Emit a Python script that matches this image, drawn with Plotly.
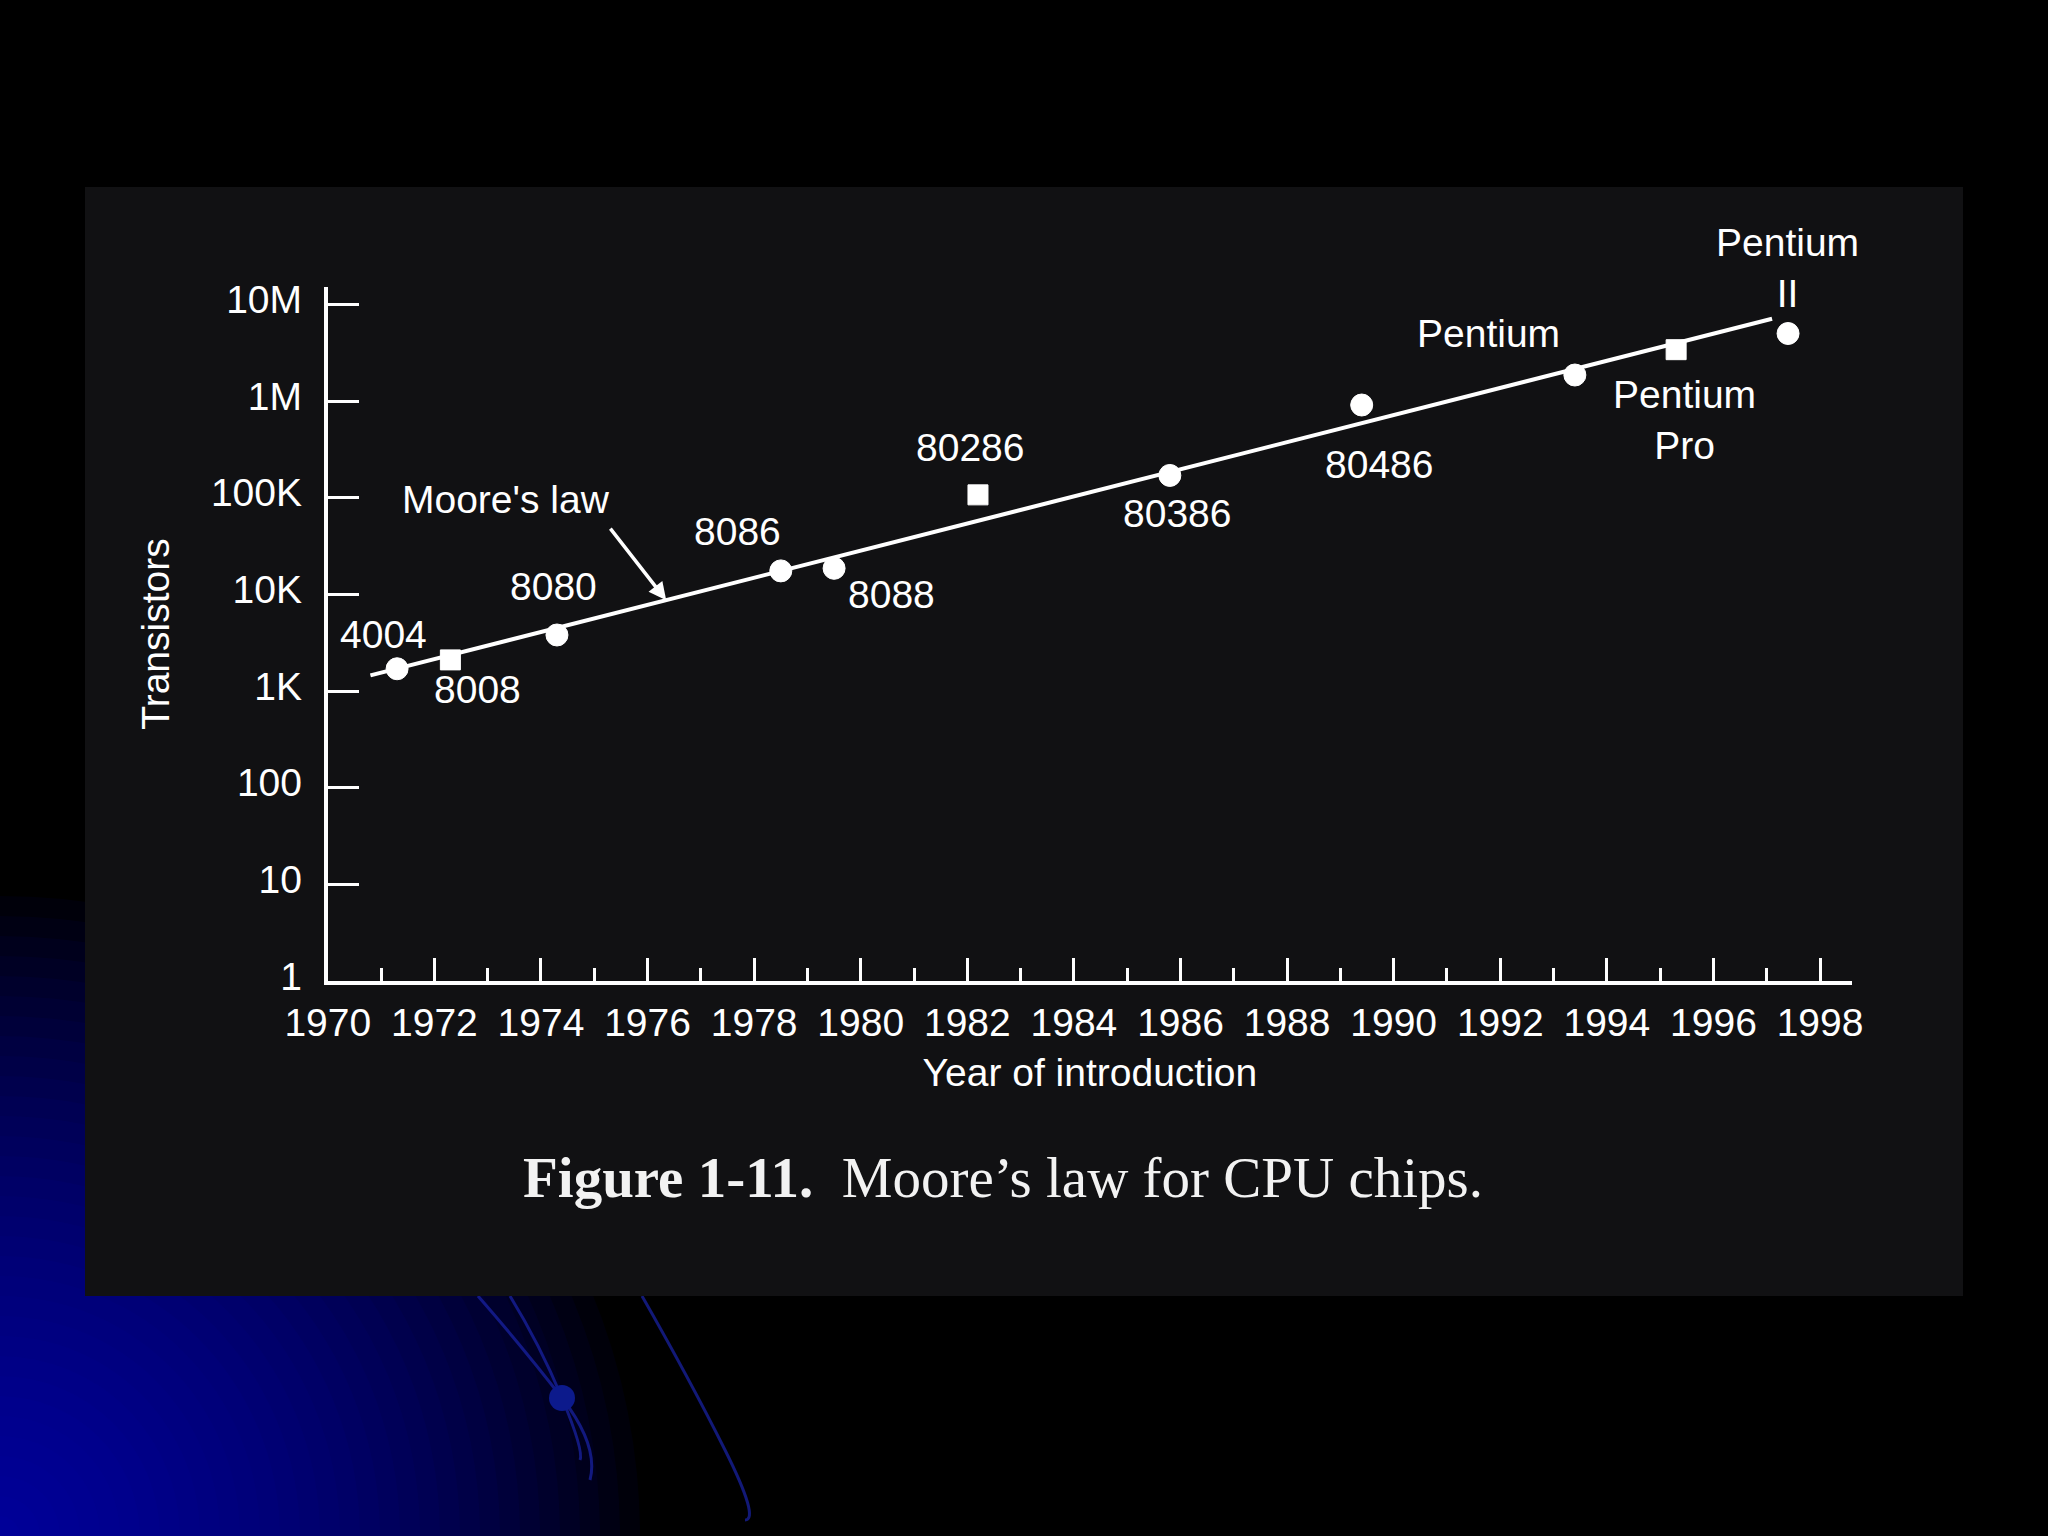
import math
import plotly.graph_objects as go

# ---------------- data ----------------
chips = ["4004", "8008", "8080", "8086", "8088", "80286", "80386", "80486",
         "Pentium", "Pentium<br>Pro", "Pentium<br>II"]
years = [1971.3, 1972.3, 1974.3, 1978.5, 1979.5, 1982.2, 1985.8, 1989.4,
         1993.4, 1995.3, 1997.4]
transistors = [1700, 2100, 3800, 17500, 18600, 107000, 170000, 910000,
               1860000, 3400000, 5000000]
marker_kind = ["circle", "square", "circle", "circle", "circle", "square",
               "circle", "circle", "circle", "square", "circle"]

moore_years = [1970.8, 1997.1]
moore_transistors = [1450, 7.1e6]
moore_arrow_year = 1976.35

x_tickvals = list(range(1970, 1999, 2))
y_tickvals = [1, 10, 100, 1e3, 1e4, 1e5, 1e6, 1e7]
y_ticktext = ["1", "10", "100", "1K", "10K", "100K", "1M", "10M"]

# ---------------- styling ----------------
W, H = 2048, 1536
FONT = "Liberation Sans, Arial, sans-serif"
FS = 39
WHITE = "#ffffff"
# label offsets (pixels) relative to each chip's point
label_dx = [-14, 27, -3, -43, 57, -8, 7, 17, -86, 8, -1]
label_dy = [34, -30, 48, 39, -26, 47, -38, -59, 42, -70, 66]


def px(x):
    return x / W


def py(y):
    return 1 - y / H


fig = go.Figure()

# Moore's law trend line
fig.add_trace(go.Scatter(
    x=moore_years, y=moore_transistors, mode="lines",
    line=dict(color=WHITE, width=4), hoverinfo="skip", showlegend=False,
))

# chip points
fig.add_trace(go.Scatter(
    x=years, y=transistors, mode="markers",
    marker=dict(symbol=marker_kind,
                size=[22 if m == "circle" else 20 for m in marker_kind],
                color=WHITE, opacity=1, line=dict(width=1, color=WHITE)),
    text=[c.replace("<br>", " ") for c in chips],
    hovertemplate="%{text}: %{y:,}<extra></extra>", showlegend=False,
))

annotations = []
for c, xv, yv, dx, dy in zip(chips, years, transistors, label_dx, label_dy):
    annotations.append(dict(
        x=xv, y=math.log10(yv), xref="x", yref="y", text=c,
        showarrow=False, xanchor="center", yanchor="middle",
        xshift=dx, yshift=dy,
        font=dict(family=FONT, size=FS, color=WHITE),
    ))

# Moore's law arrow and label (arrow tip sits on the trend line)
lx0, lx1 = moore_years
ly0, ly1 = math.log10(moore_transistors[0]), math.log10(moore_transistors[1])
tip_y = ly0 + (moore_arrow_year - lx0) / (lx1 - lx0) * (ly1 - ly0)
annotations.append(dict(
    x=moore_arrow_year, y=tip_y, xref="x", yref="y", text="",
    showarrow=True, ax=-57, ay=-73, arrowhead=2, arrowsize=1.0,
    arrowwidth=3.5, arrowcolor=WHITE, standoff=0,
))
annotations.append(dict(
    x=moore_arrow_year, y=tip_y, xref="x", yref="y", text="Moore's law",
    showarrow=False, xanchor="center", yanchor="middle",
    xshift=-160, yshift=101, font=dict(family=FONT, size=FS, color=WHITE),
))

# caption
annotations.append(dict(
    x=px(1003), y=py(1177), xref="paper", yref="paper",
    text="<b>Figure 1-11.</b>  Moore\u2019s law for CPU chips.",
    showarrow=False, xanchor="center", yanchor="middle",
    font=dict(family="Liberation Serif, Times New Roman, serif", size=57,
              color="#f2f2f2"),
))

shapes = []
# blue radial glow in the lower-left corner of the slide
for k in range(32):
    r = 640 - k * 20
    shapes.append(dict(type="circle", xref="paper", yref="paper",
                       x0=px(-r), x1=px(r), y0=py(H + r), y1=py(H - r),
                       fillcolor="rgba(0,0,200,0.05)", line=dict(width=0),
                       layer="below"))
# faint decorative blue curves
for path_px in [
    [(478, 1296), (525, 1350), (562, 1398), (590, 1480)],
    [(510, 1296), (540, 1345), (562, 1398), (580, 1460)],
    [(642, 1296), (690, 1380), (725, 1450), (745, 1520)],
]:
    (a, b), (c1, c2), (d1, d2), (e1, e2) = path_px
    path = (f"M {px(a)},{py(b)} Q {px(c1)},{py(c2)} {px(d1)},{py(d2)} "
            f"T {px(e1)},{py(e2)}")
    shapes.append(dict(type="path", xref="paper", yref="paper", path=path,
                       line=dict(color="rgba(25,35,170,0.7)", width=3),
                       layer="below"))
shapes.append(dict(type="circle", xref="paper", yref="paper",
                   x0=px(549), x1=px(575), y0=py(1411), y1=py(1385),
                   fillcolor="#0c1a8c", line=dict(width=0), layer="below"))
# dark figure panel
shapes.append(dict(type="rect", xref="paper", yref="paper",
                   x0=px(85), x1=px(1963), y0=py(1296), y1=py(187),
                   fillcolor="#111113", line=dict(width=0), layer="below"))

fig.update_layout(
    width=W, height=H, autosize=False,
    margin=dict(l=0, r=0, t=0, b=0, pad=0),
    paper_bgcolor="#000000", plot_bgcolor="rgba(0,0,0,0)",
    font=dict(family=FONT, size=FS, color=WHITE),
    showlegend=False,
    annotations=annotations, shapes=shapes,
    xaxis=dict(
        domain=[px(327.8), px(1852)], range=[1970, 1998.6],
        automargin=False,
        showgrid=False, zeroline=False,
        showline=True, linecolor=WHITE, linewidth=4,
        tickmode="array", tickvals=x_tickvals,
        ticktext=[str(v) for v in x_tickvals],
        ticks="inside", ticklen=23, tickwidth=3, tickcolor=WHITE,
        ticklabelstandoff=4,
        minor=dict(tick0=1970, dtick=1, ticks="inside", ticklen=13,
                   tickwidth=3, tickcolor=WHITE, showgrid=False),
        tickfont=dict(family=FONT, size=FS, color=WHITE),
        title=dict(text="Year of introduction", standoff=17,
                   font=dict(family=FONT, size=FS, color=WHITE)),
    ),
    yaxis=dict(
        type="log", domain=[py(981), py(287)], range=[0, 7.18],
        automargin=False,
        showgrid=False, zeroline=False,
        showline=True, linecolor=WHITE, linewidth=4,
        tickmode="array", tickvals=y_tickvals, ticktext=y_ticktext,
        ticks="inside", ticklen=31, tickwidth=3, tickcolor=WHITE,
        ticklabelstandoff=14, ticklabelshift=-5,
        tickfont=dict(family=FONT, size=FS, color=WHITE),
        title=dict(text="Transistors", standoff=30,
                   font=dict(family=FONT, size=FS, color=WHITE)),
    ),
)

fig.write_html("out.html",
               config={"responsive": False, "displayModeBar": False},
               post_script="document.body.style.margin='0';"
                           "document.body.style.overflow='hidden';")
